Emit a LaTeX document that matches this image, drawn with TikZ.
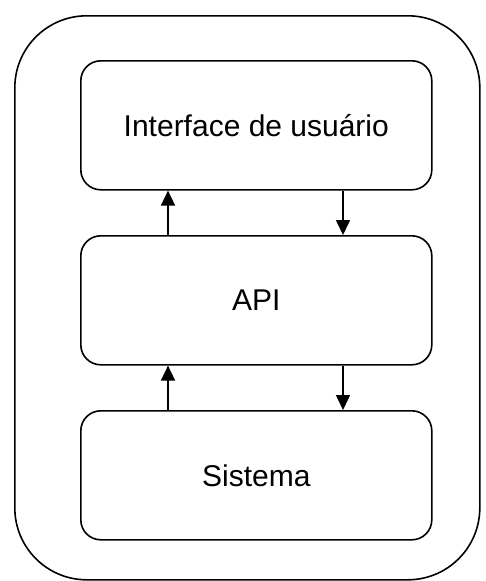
\documentclass[tikz,border=0pt]{standalone}
\usepackage{fontspec}
\setmainfont{Liberation Sans}
\usetikzlibrary{arrows.meta}
\begin{document}
\begin{tikzpicture}[x=1pt,y=-1pt,
  layer/.style={draw=black, line width=1.6pt, rounded corners=20pt, minimum width=351pt, minimum height=129pt, anchor=north west, inner sep=0pt, font=\fontsize{30}{36}\selectfont},
  link/.style={line width=1.6pt, -{Triangle[width=14pt,length=15pt]}}]
\useasboundingbox (0,0) rectangle (486,581);
\node[draw=black, line width=1.6pt, rounded corners=72pt, minimum width=465pt, minimum height=564pt, anchor=north west, inner sep=0pt] (outer) at (14,15) {};
\node[layer] (ui) at (80,60) {Interface de usuário};
\node[layer] (api) at (80,235) {API};
\node[layer] (sys) at (80,410) {Sistema};
\coordinate (u1) at (168,0);
\coordinate (d1) at (343,0);
\draw[link] (api.north -| u1) -- (ui.south -| u1);
\draw[link] (ui.south -| d1) -- (api.north -| d1);
\draw[link] (sys.north -| u1) -- (api.south -| u1);
\draw[link] (api.south -| d1) -- (sys.north -| d1);
\end{tikzpicture}
\end{document}
